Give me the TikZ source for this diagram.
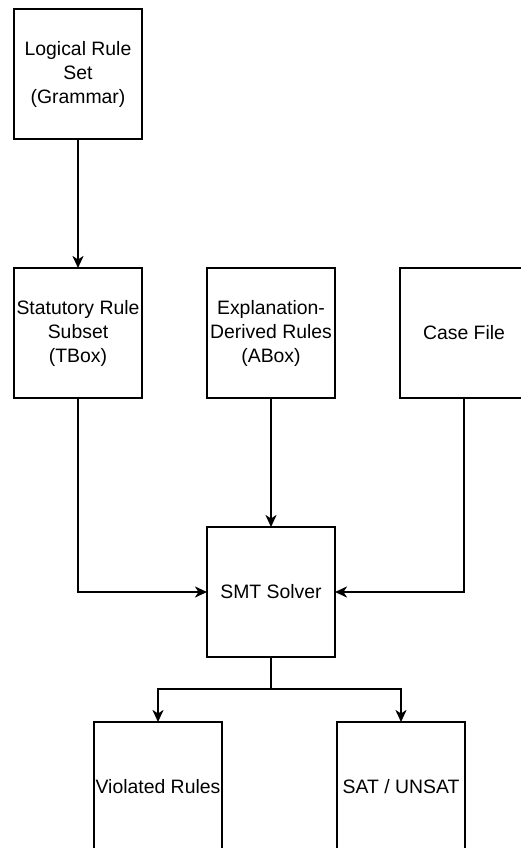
\documentclass[tikz,border=0pt]{standalone}
\usepackage{fontspec}
\setmainfont{Liberation Sans}
\usetikzlibrary{positioning}
\usetikzlibrary{arrows.meta}
\tikzstyle{Line} = [draw, line width=2pt,
    -{Stealth[length=12pt, width=11pt, inset=3.5pt]}]
\tikzstyle{arect} = [draw, rectangle, minimum width=128pt,
    minimum height=130pt, align=center, inner sep=0pt, outer sep=0pt,
    fill=white, line width=2pt, font=\fontsize{19.4}{24}\selectfont]

\begin{document}
\begin{tikzpicture}[x=1pt, y=1pt]
     % ><>< =================== ><>< %
     % ><><     Place nodes     ><>< %
     % ><>< =================== ><>< %
     \useasboundingbox (0,0) rectangle (520,-848);
     \node [arect] (grammar) at (78,-74)
        {Logical Rule\\Set\\(Grammar)};
     \node [arect, below=129pt of grammar] (tbox)
        {Statutory Rule\\Subset\\(TBox)};
     \node [arect, right=65pt of tbox] (abox)
        {Explanation-\\Derived Rules\\(ABox)};
     \node [arect, right=65pt of abox] (casefile) {Case File};
     \node [arect, below=129pt of abox] (smt) {SMT Solver};
     \coordinate [below=32pt of smt] (split);
     \node [arect, below=65pt of smt, xshift=-113pt] (violated)
        {Violated Rules};
     \node [arect, below=65pt of smt, xshift=130pt] (satunsat)
        {SAT / UNSAT};
     % ><>< =================== ><>< %
     % ><><     Draw lines.     ><>< %
     % ><>< =================== ><>< %
     \path [Line] (grammar) -- (tbox);
     \path [Line] (abox) -- (smt);
     \path [Line] (tbox) |- (smt);
     \path [Line] (casefile) |- (smt);
     \path [Line] (smt.south) -- (split) -| (violated);
     \path [Line] (split) -| (satunsat);
  \end{tikzpicture}
\end{document}
